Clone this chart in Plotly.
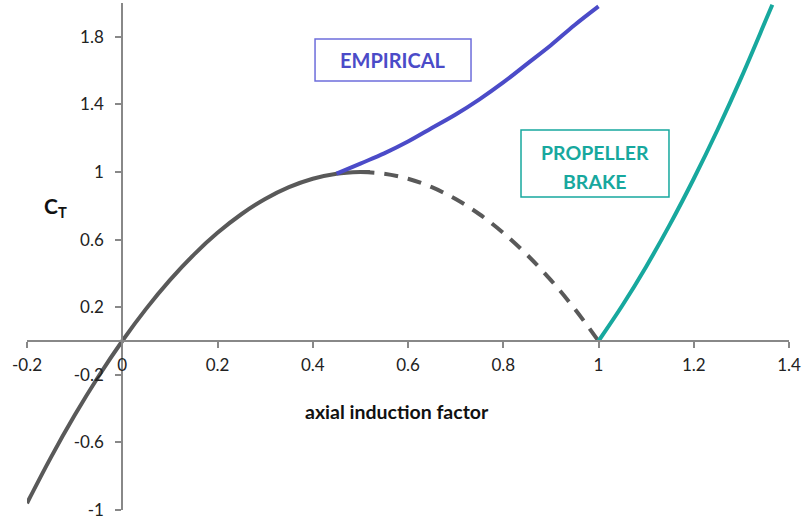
import plotly.graph_objects as go

# Momentum-theory thrust coefficient (solid part, valid region)
a_momentum = [-0.2, -0.15, -0.1, -0.05, 0.0, 0.05, 0.1, 0.15, 0.2, 0.25,
              0.3, 0.35, 0.4, 0.45, 0.5, 0.52]
ct_momentum = [-0.96, -0.69, -0.44, -0.21, 0.0, 0.19, 0.36, 0.51, 0.64, 0.75,
               0.84, 0.91, 0.96, 0.99, 1.0, 1.0]

# Momentum theory beyond its range of validity (dashed)
a_invalid = [0.5, 0.55, 0.6, 0.65, 0.7, 0.75, 0.8, 0.85, 0.9, 0.95, 1.0]
ct_invalid = [1.0, 0.99, 0.96, 0.91, 0.84, 0.75, 0.64, 0.51, 0.36, 0.19, 0.0]

# Empirical (turbulent wake) branch
a_empirical = [0.45, 0.5, 0.55, 0.6, 0.65, 0.7, 0.75, 0.8, 0.85, 0.9, 0.95, 1.0]
ct_empirical = [0.99, 1.05, 1.11, 1.18, 1.26, 1.34, 1.43, 1.53, 1.64, 1.75, 1.87, 1.98]

# Propeller brake state
a_brake = [1.0, 1.05, 1.1, 1.15, 1.2, 1.25, 1.3, 1.35, 1.365]
ct_brake = [0.0, 0.21, 0.44, 0.69, 0.96, 1.25, 1.56, 1.89, 1.99]

x_ticks = [-0.2, 0, 0.2, 0.4, 0.6, 0.8, 1, 1.2, 1.4]
x_tick_text = ["-0.2", "0", "0.2", "0.4", "0.6", "0.8", "1", "1.2", "1.4"]
y_ticks = [-1, -0.6, -0.2, 0.2, 0.6, 1, 1.4, 1.8]
y_tick_text = ["-1", "-0.6", "-0.2", "0.2", "0.6", "1", "1.4", "1.8"]

GREY = "#595959"
BLUE = "#4B4BC8"
BLUE_BOX = "#6D6DDB"
TEAL = "#17A89E"
AXIS = "#888888"
FONT = "Lato"

fig = go.Figure()
fig.add_trace(go.Scatter(x=a_invalid, y=ct_invalid, mode="lines",
                         line=dict(color=GREY, width=4, dash="14px,10px", shape="spline"),
                         hoverinfo="skip"))
fig.add_trace(go.Scatter(x=a_momentum, y=ct_momentum, mode="lines",
                         line=dict(color=GREY, width=4, shape="spline"),
                         hoverinfo="skip"))
fig.add_trace(go.Scatter(x=a_empirical, y=ct_empirical, mode="lines",
                         line=dict(color=BLUE, width=4, shape="spline"),
                         hoverinfo="skip"))
fig.add_trace(go.Scatter(x=a_brake, y=ct_brake, mode="lines",
                         line=dict(color=TEAL, width=4, shape="spline"),
                         hoverinfo="skip"))

fig.update_layout(
    width=803, height=523,
    margin=dict(l=27, r=14, t=3, b=13),
    paper_bgcolor="white", plot_bgcolor="white",
    showlegend=False,
    font=dict(family=FONT, size=17, color="#222222"),
    xaxis=dict(range=[-0.2, 1.4], anchor="free", position=1/3,
               showline=True, linecolor=AXIS, linewidth=2,
               ticks="outside", ticklen=6, tickcolor=AXIS, tickwidth=1.5,
               tickvals=x_ticks, ticktext=x_tick_text, ticklabelstandoff=3,
               showgrid=False, zeroline=False),
    yaxis=dict(range=[-1, 2], anchor="free", position=0.125,
               showline=True, linecolor=AXIS, linewidth=2,
               ticks="outside", ticklen=6, tickcolor=AXIS, tickwidth=1.5,
               tickvals=y_ticks, ticktext=y_tick_text, ticklabelstandoff=8,
               showgrid=False, zeroline=False),
)


def label(text, x, y, size, color):
    fig.add_annotation(text=text, xref="paper", yref="paper", x=x, y=y,
                       xanchor="center", yanchor="middle", showarrow=False,
                       font=dict(family=FONT, size=size, color=color))


# Axis titles
label("<b>axial induction factor</b>", 0.4856, 0.195, 19.5, "#111111")
label("<b>C<sub>T</sub></b>", 0.0374, 0.598, 21, "#111111")

# Region labels with boxes
fig.add_shape(type="rect", xref="paper", yref="paper",
              x0=0.378, x1=0.5827, y0=0.8462, y1=0.929,
              line=dict(color=BLUE_BOX, width=1.5), fillcolor="white")
label("<b>EMPIRICAL</b>", 0.4803, 0.8876, 20, BLUE)

fig.add_shape(type="rect", xref="paper", yref="paper",
              x0=0.6483, x1=0.8425, y0=0.6174, y1=0.7495,
              line=dict(color=TEAL, width=1.5), fillcolor="white")
label("<b>PROPELLER</b>", 0.7454, 0.7061, 19.5, TEAL)
label("<b>BRAKE</b>", 0.7454, 0.6489, 19.5, TEAL)

fig.write_html("out.html")
